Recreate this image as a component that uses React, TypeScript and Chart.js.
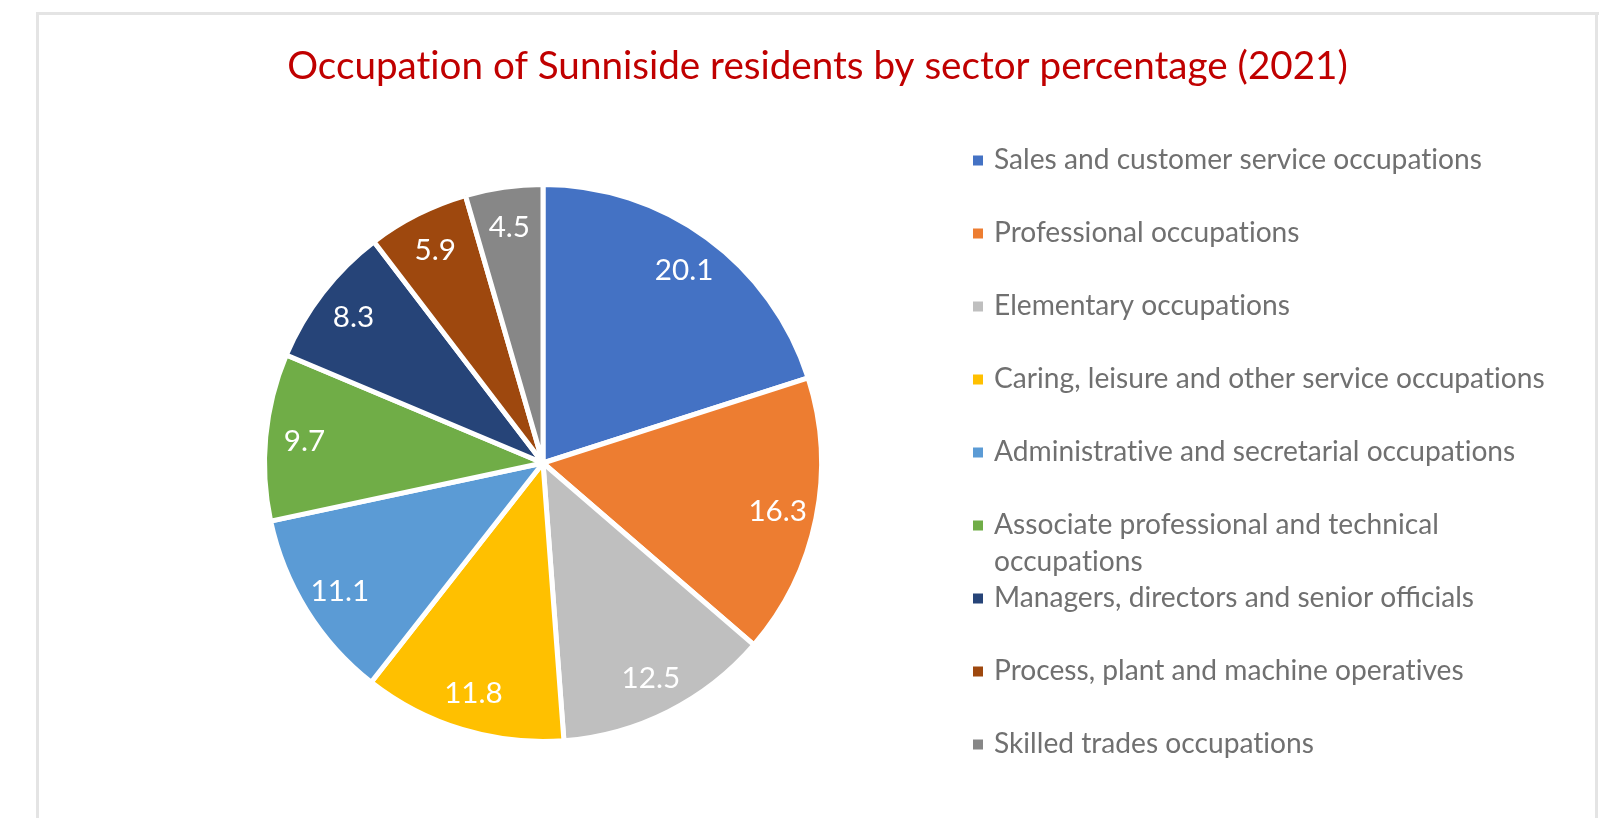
import { useEffect, useRef } from 'react';
import { Chart, registerables } from 'chart.js';

Chart.register(...registerables);

const chartTitle = 'Occupation of Sunniside residents by sector percentage (2021)';

const categories = [
  'Sales and customer service occupations',
  'Professional occupations',
  'Elementary occupations',
  'Caring, leisure and other service occupations',
  'Administrative and secretarial occupations',
  'Associate professional and technical occupations',
  'Managers, directors and senior officials',
  'Process, plant and machine operatives',
  'Skilled trades occupations',
];

const values = [20.1, 16.3, 12.5, 11.8, 11.1, 9.7, 8.3, 5.9, 4.5];

const colors = [
  '#4472C4',
  '#ED7D31',
  '#BFBFBF',
  '#FFC000',
  '#5B9BD5',
  '#70AD47',
  '#264478',
  '#9E480E',
  '#878787',
];

const FONT = 'Lato, "Noto Sans", sans-serif';
const TITLE_COLOR = '#C00000';
const LEGEND_COLOR = '#707070';

// break the Lato "ti" ligature with a zero-width non-joiner (invisible)
function plain(text: string): string {
  return text.replace(/t(?=i)/g, 't\u200C');
}

function fitSize(ctx: CanvasRenderingContext2D, text: string, target: number): number {
  const base = 40;
  ctx.font = `${base}px ${FONT}`;
  const w = ctx.measureText(plain(text)).width;
  return (base * target) / w;
}

function wrapText(ctx: CanvasRenderingContext2D, text: string, maxW: number): string[] {
  const words = text.split(' ');
  const lines: string[] = [];
  let cur = '';
  for (const w of words) {
    const test = cur ? cur + ' ' + w : w;
    if (ctx.measureText(plain(test)).width > maxW && cur) {
      lines.push(cur);
      cur = w;
    } else {
      cur = test;
    }
  }
  if (cur) lines.push(cur);
  return lines;
}

const decorPlugin = {
  id: 'decor',
  beforeDraw(chart: any) {
    const ctx: CanvasRenderingContext2D = chart.ctx;
    ctx.save();
    ctx.fillStyle = '#ffffff';
    ctx.fillRect(0, 0, chart.width, chart.height);
    ctx.fillStyle = '#e4e4e4';
    ctx.fillRect(36, 12, 3, chart.height);
    ctx.fillRect(36, 12, 1563, 3);
    ctx.fillRect(1595, 12, 3, chart.height);
    ctx.restore();
  },
  afterDatasetsDraw(chart: any) {
    const ctx: CanvasRenderingContext2D = chart.ctx;
    ctx.save();
    const legendSize = fitSize(ctx, categories[3], 551);
    const labelSize = legendSize * (32 / 30.4);
    const meta = chart.getDatasetMeta(0);
    ctx.fillStyle = '#ffffff';
    ctx.font = `${labelSize}px ${FONT}`;
    ctx.textAlign = 'center';
    ctx.textBaseline = 'alphabetic';
    meta.data.forEach((arc: any, i: number) => {
      const p = arc.getProps(['x', 'y', 'startAngle', 'endAngle', 'outerRadius'], true);
      const mid = (p.startAngle + p.endAngle) / 2;
      const r = p.outerRadius * 0.86;
      const px = p.x + Math.cos(mid) * r;
      const py = p.y + Math.sin(mid) * r;
      ctx.fillText(values[i].toFixed(1), px, py + labelSize * 0.36);
    });
    ctx.restore();
  },
  afterDraw(chart: any) {
    const ctx: CanvasRenderingContext2D = chart.ctx;
    ctx.save();
    // Title
    const titleSize = fitSize(ctx, chartTitle, 1061);
    ctx.font = `${titleSize}px ${FONT}`;
    ctx.fillStyle = TITLE_COLOR;
    ctx.textAlign = 'center';
    ctx.textBaseline = 'alphabetic';
    ctx.fillText(plain(chartTitle), 817.5, 79);

    // Legend
    const legendSize = fitSize(ctx, categories[3], 551);
    ctx.font = `${legendSize}px ${FONT}`;
    ctx.textAlign = 'left';
    const rowStart = 160.5;
    const rowStep = 73;
    categories.forEach((cat, i) => {
      const rowY = rowStart + i * rowStep;
      ctx.fillStyle = colors[i];
      ctx.fillRect(973, rowY - 5, 10, 10);
      ctx.fillStyle = LEGEND_COLOR;
      const lines = wrapText(ctx, cat, 565);
      lines.forEach((line, j) => {
        ctx.fillText(plain(line), 994, rowY - 2 + legendSize * 0.36 + j * 37);
      });
    });
    ctx.restore();
  },
};

export default function App() {
  const canvasRef = useRef<HTMLCanvasElement | null>(null);

  useEffect(() => {
    if (!canvasRef.current) return;
    const chart = new Chart(canvasRef.current, {
      type: 'pie',
      data: {
        labels: categories,
        datasets: [
          {
            data: values,
            backgroundColor: colors,
            borderColor: '#ffffff',
            borderWidth: 5,
          },
        ],
      },
      options: {
        responsive: false,
        animation: false,
        layout: { padding: { left: 262, top: 182, right: 776, bottom: 74 } },
        plugins: {
          legend: { display: false },
          title: { display: false },
          tooltip: { enabled: false },
        },
      },
      plugins: [decorPlugin],
    });
    return () => chart.destroy();
  }, []);

  return (
    <div style={{ position: 'fixed', left: 0, top: 0, width: 1600, height: 818, background: '#fff' }}>
      <canvas ref={canvasRef} width={1600} height={818} style={{ width: 1600, height: 818, display: 'block' }} />
    </div>
  );
}
